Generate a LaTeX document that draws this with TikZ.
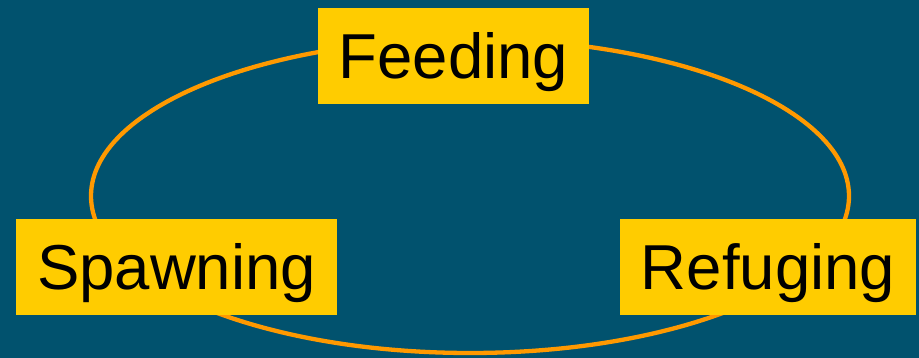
\documentclass[tikz,border=0pt]{standalone}
\usepackage{fontspec}
\setmainfont{Liberation Sans}
\definecolor{bgteal}{HTML}{01526E}
\definecolor{boxyellow}{HTML}{FFCC00}
\definecolor{ringorange}{HTML}{FF9900}
\begin{document}
\begin{tikzpicture}[x=1pt,y=-1pt,
  stage/.style={fill=boxyellow, inner sep=0pt, minimum height=96pt,
    text height=46pt, text depth=0pt, text=black,
    font=\fontsize{63.5}{76}\selectfont}]
\fill[bgteal] (0,0) rectangle (919,358);
\useasboundingbox (0,0) rectangle (919,358);
\draw[ringorange, line width=4.3pt] (470,196) ellipse [x radius=379, y radius=157];
\node[stage, minimum width=271pt] (feed) at (453.5,56) {Feeding};
\node[stage, minimum width=321pt] (spawn) at (176.5,267) {Spawning};
\node[stage, minimum width=296pt] (refuge) at (768,267) {Refuging};
\end{tikzpicture}
\end{document}
